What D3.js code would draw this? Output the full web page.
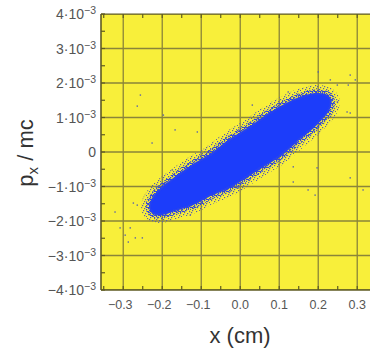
<!DOCTYPE html>
<html>
<head>
<meta charset="utf-8">
<script src="https://cdn.jsdelivr.net/npm/d3@7"></script>
<style>
  body { margin: 0; background: #fff; }
  svg { display: block; font-family: "Liberation Sans", Arial, sans-serif; }
</style>
</head>
<body>
<svg width="370" height="352"></svg>
<script>
// x in cm, px/mc in units of 1e-3
const xTicks = [-0.3, -0.2, -0.1, 0.0, 0.1, 0.2, 0.3];
const yTicks = [-4, -3, -2, -1, 0, 1, 2, 3, 4];

// outline of the dense core of the cloud
const coreX = [-0.231, -0.218, -0.197, -0.167, -0.121, -0.077, -0.026, 0.026, 0.059, 0.103, 0.146, 0.192, 0.218, 0.231,
               0.231, 0.223, 0.205, 0.187, 0.154, 0.103, 0.051, 0.018, -0.026, -0.077, -0.121, -0.167, -0.205, -0.226];
const coreY = [-1.54, -1.25, -1.01, -0.75, -0.38, -0.09, 0.35, 0.72, 0.99, 1.30, 1.54, 1.68, 1.65, 1.51,
               1.36, 1.16, 0.93, 0.72, 0.41, -0.09, -0.46, -0.70, -1.01, -1.25, -1.51, -1.68, -1.80, -1.74];

// scattered particles outside the core
const strayX = [0.200, -0.256, -0.264, 0.282, 0.295, 0.277, -0.197, -0.110, -0.167, -0.226, 0.136, 0.192, 0.282, 0.315,
                0.174, -0.005, 0.197, 0.249, 0.282, -0.033, -0.321, -0.282, -0.269, -0.251, -0.264, -0.274, -0.174,
                -0.128, -0.308, 0.136, 0.031, 0.123, 0.231, 0.249, 0.274, -0.295, -0.287];
const strayY = [2.32, 1.65, 1.33, 2.23, 2.09, 1.94, 1.07, 0.58, 0.64, 0.26, -0.87, -1.25, -0.75, -1.10,
                -1.10, -1.04, -0.46, 1.45, 1.13, -0.46, -1.74, -2.20, -2.49, -2.49, -1.54, -1.48, -0.52,
                -1.83, -2.20, -0.43, 1.36, 1.74, 2.09, 1.94, 1.16, -2.41, -2.61];

const svg = d3.select("svg");
const pLeft = 101, pTop = 14, pBottom = 290;

const x = d3.scaleLinear().domain([-0.357, 0.357]).range([pLeft, pLeft + 0.714 * 390]);
const y = d3.scaleLinear().domain([-4, 4]).range([pBottom, pTop]);

const defs = svg.append("defs");
defs.append("clipPath").attr("id", "plot")
  .append("rect").attr("x", pLeft).attr("y", pTop).attr("width", 400).attr("height", pBottom - pTop);
defs.append("filter").attr("id", "soft")
  .append("feGaussianBlur").attr("stdDeviation", 0.45);

function speckle(id, w, pts, color) {
  const p = defs.append("pattern").attr("id", id)
    .attr("width", w).attr("height", w).attr("patternUnits", "userSpaceOnUse");
  pts.forEach(([a, b]) => {
    p.append("rect").attr("x", a).attr("y", b).attr("width", 1.2).attr("height", 1.2).attr("fill", color);
  });
}
speckle("sparse", 7, [[0, 1], [3, 0], [5, 3], [1, 4], [4, 5], [2, 2], [6, 6]], "#5a62a8");
speckle("dense", 4, [[0, 0], [2, 1], [1, 2], [3, 3], [0, 3], [2, 2.8]], "#3046d8");

// background
svg.append("rect")
  .attr("x", pLeft).attr("y", pTop).attr("width", 370 - pLeft).attr("height", pBottom - pTop)
  .attr("fill", "#f8ef3a");

const plot = svg.append("g").attr("clip-path", "url(#plot)");

// grid
plot.append("g").selectAll("line").data(xTicks).join("line")
  .attr("x1", d => x(d)).attr("x2", d => x(d)).attr("y1", pTop).attr("y2", pBottom)
  .attr("stroke", "#8a853a").attr("stroke-width", 1.3);
plot.append("g").selectAll("line").data(yTicks).join("line")
  .attr("y1", d => y(d)).attr("y2", d => y(d)).attr("x1", pLeft).attr("x2", 370)
  .attr("stroke", "#8a853a").attr("stroke-width", 1.3);

// particle cloud
const core = d3.range(coreX.length).map(i => [x(coreX[i]), y(coreY[i])]);
const coreLine = d3.line().curve(d3.curveCatmullRomClosed);
const cloud = plot.append("g").attr("filter", "url(#soft)");

cloud.append("path")
  .attr("d", coreLine(core))
  .attr("fill", "none")
  .attr("stroke", "url(#sparse)")
  .attr("stroke-width", 18);

cloud.append("path")
  .attr("d", coreLine(core))
  .attr("fill", "none")
  .attr("stroke", "url(#dense)")
  .attr("stroke-width", 9);

cloud.append("g").selectAll("rect")
  .data(d3.range(strayX.length))
  .join("rect")
  .attr("x", i => x(strayX[i]) - 0.7)
  .attr("y", i => y(strayY[i]) - 0.7)
  .attr("width", 1.4).attr("height", 1.4)
  .attr("fill", "#5a62a8");

cloud.append("path")
  .attr("d", coreLine(core))
  .attr("fill", "#1e3cfa")
  .attr("stroke", "#2643f0")
  .attr("stroke-width", 2);

// frame and ticks
const frame = svg.append("g").attr("stroke", "#5f5b22");
frame.append("line").attr("x1", pLeft).attr("x2", pLeft).attr("y1", pTop).attr("y2", pBottom).attr("stroke-width", 1.6);
frame.append("line").attr("x1", pLeft).attr("x2", 370).attr("y1", pBottom).attr("y2", pBottom).attr("stroke-width", 1.6);
frame.append("line").attr("x1", pLeft).attr("x2", 370).attr("y1", pTop).attr("y2", pTop).attr("stroke-width", 1.2);

const xMinor = d3.range(-0.35, 0.36, 0.05);
const yMinor = d3.range(-4, 4.01, 0.5);
frame.append("g").selectAll("line").data(xMinor).join("line")
  .attr("x1", d => x(d)).attr("x2", d => x(d)).attr("y1", pBottom).attr("y2", pBottom - 4).attr("stroke-width", 1.2);
frame.append("g").selectAll("line").data(xMinor).join("line")
  .attr("x1", d => x(d)).attr("x2", d => x(d)).attr("y1", pTop).attr("y2", pTop + 4).attr("stroke-width", 1.2);
frame.append("g").selectAll("line").data(yMinor).join("line")
  .attr("x1", pLeft).attr("x2", pLeft + 4).attr("y1", d => y(d)).attr("y2", d => y(d)).attr("stroke-width", 1.2);

// tick labels
const fmtX = d => (d < 0 ? "\u2212" : "") + Math.abs(d).toFixed(1);
svg.append("g").selectAll("text").data(xTicks).join("text")
  .attr("x", d => x(d) + (d < 0 ? -3 : 0)).attr("y", 309)
  .attr("text-anchor", "middle").attr("font-size", 12.5).attr("fill", "#555")
  .text(fmtX);

const yl = svg.append("g").selectAll("text").data(yTicks).join("text")
  .attr("x", 96).attr("y", d => y(d) + 5)
  .attr("text-anchor", "end").attr("font-size", 14).attr("fill", "#555");
yl.each(function(d) {
  const t = d3.select(this);
  if (d === 0) { t.text("0"); return; }
  t.append("tspan").text((d < 0 ? "\u2212" : "") + Math.abs(d) + "\u00b710");
  t.append("tspan").attr("dy", -5).attr("font-size", 10.5).text("\u22123");
});

// axis titles
svg.append("text")
  .attr("x", 240).attr("y", 343)
  .attr("text-anchor", "middle").attr("font-size", 22).attr("fill", "#333")
  .text("x (cm)");

const yt = svg.append("text")
  .attr("transform", "translate(33,153) rotate(-90)")
  .attr("text-anchor", "middle").attr("font-size", 22).attr("fill", "#333");
yt.append("tspan").text("p");
yt.append("tspan").attr("dy", 5).attr("font-size", 15).text("x");
yt.append("tspan").attr("dy", -5).text(" / mc");
</script>
</body>
</html>
